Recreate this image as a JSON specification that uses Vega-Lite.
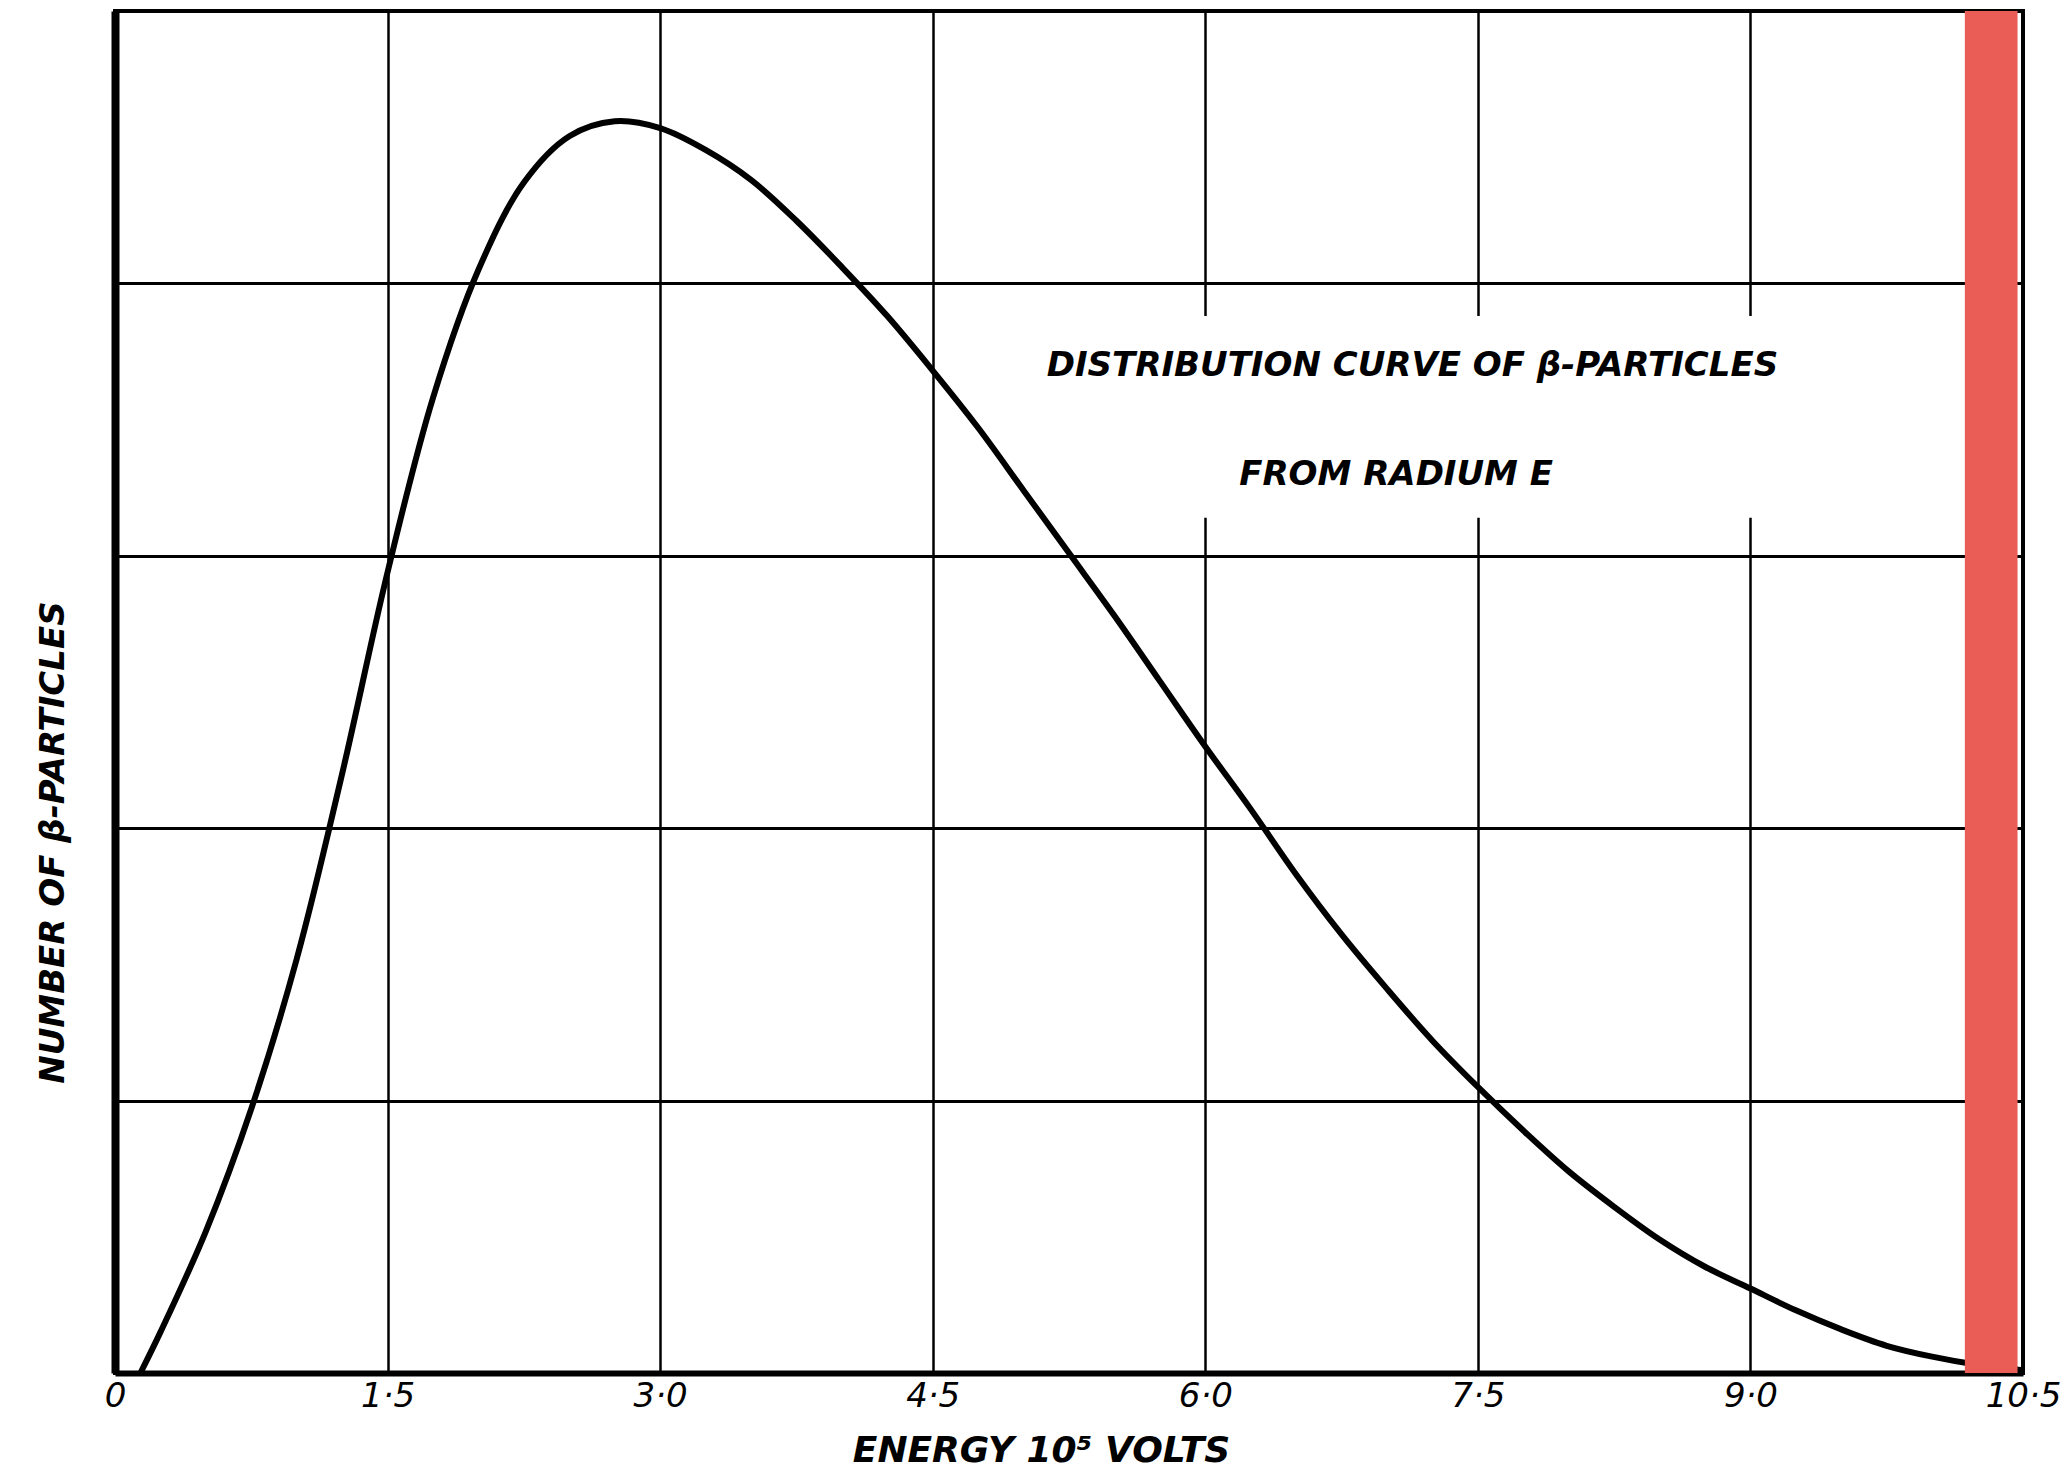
{
  "$schema": "https://vega.github.io/schema/vega-lite/v6.json",
  "width": 1908,
  "height": 1362,
  "autosize": {"type": "none"},
  "padding": {"left": 115, "top": 11, "right": 44, "bottom": 95},
  "background": "white",
  "config": {
    "view": {"stroke": "black", "strokeWidth": 4},
    "font": "DejaVu Sans"
  },
  "datasets": {
    "curve": [
      {"energy": 0.14, "count": 0.0},
      {"energy": 0.25, "count": 0.15},
      {"energy": 0.5, "count": 0.52},
      {"energy": 0.75, "count": 0.97},
      {"energy": 1.0, "count": 1.52},
      {"energy": 1.25, "count": 2.2},
      {"energy": 1.5, "count": 2.94},
      {"energy": 1.75, "count": 3.58},
      {"energy": 2.0, "count": 4.05},
      {"energy": 2.25, "count": 4.37},
      {"energy": 2.5, "count": 4.54},
      {"energy": 2.75, "count": 4.595},
      {"energy": 3.0, "count": 4.57},
      {"energy": 3.25, "count": 4.49},
      {"energy": 3.5, "count": 4.38},
      {"energy": 3.75, "count": 4.23},
      {"energy": 4.0, "count": 4.06},
      {"energy": 4.25, "count": 3.88},
      {"energy": 4.5, "count": 3.68},
      {"energy": 4.75, "count": 3.47},
      {"energy": 5.0, "count": 3.24},
      {"energy": 5.25, "count": 3.01},
      {"energy": 5.5, "count": 2.78},
      {"energy": 5.75, "count": 2.54},
      {"energy": 6.0, "count": 2.3},
      {"energy": 6.25, "count": 2.07},
      {"energy": 6.5, "count": 1.83},
      {"energy": 6.75, "count": 1.61},
      {"energy": 7.0, "count": 1.41},
      {"energy": 7.25, "count": 1.22},
      {"energy": 7.5, "count": 1.05},
      {"energy": 7.75, "count": 0.89},
      {"energy": 8.0, "count": 0.74},
      {"energy": 8.25, "count": 0.61},
      {"energy": 8.5, "count": 0.49},
      {"energy": 8.75, "count": 0.39},
      {"energy": 9.0, "count": 0.31},
      {"energy": 9.25, "count": 0.23},
      {"energy": 9.5, "count": 0.16},
      {"energy": 9.75, "count": 0.1},
      {"energy": 10.0, "count": 0.06},
      {"energy": 10.25, "count": 0.03},
      {"energy": 10.5, "count": 0.01}
    ],
    "notes": [
      {"energy": 7.14, "count": 3.66, "label": "DISTRIBUTION CURVE OF β-PARTICLES"},
      {"energy": 7.05, "count": 3.26, "label": "FROM RADIUM E"}
    ],
    "notebox": [
      {"energy": 5.6, "energy_end": 9.7, "count": 3.88, "count_end": 3.14}
    ],
    "band": [
      {"energy": 10.18, "energy_end": 10.47, "count": 5, "count_end": 0}
    ]
  },
  "encoding": {
    "x": {
      "field": "energy",
      "type": "quantitative",
      "scale": {"domain": [0, 10.5], "nice": false, "zero": false},
      "axis": {
        "values": [0, 1.5, 3, 4.5, 6, 7.5, 9, 10.5],
        "grid": true,
        "gridColor": "black",
        "gridWidth": 2.5,
        "gridOpacity": 1,
        "domainColor": "black",
        "domainWidth": 6,
        "ticks": false,
        "labelExpr": "datum.value == 0 ? '0' : replace(format(datum.value, '.1f'), '.', '·')",
        "labelFontSize": 34,
        "labelFontStyle": "italic",
        "labelColor": "black",
        "labelPadding": 6,
        "labelFlush": false,
        "labelOverlap": false,
        "title": "ENERGY 10⁵ VOLTS",
        "titleFontSize": 36,
        "titleFontStyle": "italic",
        "titleFontWeight": "bold",
        "titleColor": "black",
        "titleX": 926,
        "titleY": 88,
        "titleAlign": "center",
        "titleBaseline": "alphabetic"
      }
    },
    "y": {
      "field": "count",
      "type": "quantitative",
      "scale": {"domain": [0, 5], "nice": false, "zero": true},
      "axis": {
        "values": [0, 1, 2, 3, 4, 5],
        "grid": true,
        "gridColor": "black",
        "gridWidth": 3,
        "gridOpacity": 1,
        "labels": false,
        "ticks": false,
        "domainColor": "black",
        "domainWidth": 8,
        "title": "NUMBER OF β-PARTICLES",
        "titleFontSize": 34,
        "titleFontStyle": "italic",
        "titleFontWeight": "bold",
        "titleColor": "black",
        "titleAngle": -90,
        "titleX": -62,
        "titleY": 831,
        "titleAlign": "center",
        "titleBaseline": "middle"
      }
    }
  },
  "layer": [
    {
      "data": {"name": "curve"},
      "mark": {"type": "line", "color": "black", "strokeWidth": 6, "interpolate": "catmull-rom"}
    },
    {
      "data": {"name": "notebox"},
      "mark": {"type": "rect", "color": "white", "opacity": 1},
      "encoding": {
        "x2": {"field": "energy_end"},
        "y2": {"field": "count_end"}
      }
    },
    {
      "data": {"name": "notes"},
      "mark": {"type": "text", "fontSize": 34, "fontStyle": "italic", "fontWeight": "bold", "color": "black", "align": "center", "baseline": "alphabetic"},
      "encoding": {
        "text": {"field": "label"}
      }
    },
    {
      "data": {"name": "band"},
      "mark": {"type": "rect", "color": "#EA5D57", "opacity": 1},
      "encoding": {
        "x2": {"field": "energy_end"},
        "y2": {"field": "count_end"}
      }
    }
  ]
}
